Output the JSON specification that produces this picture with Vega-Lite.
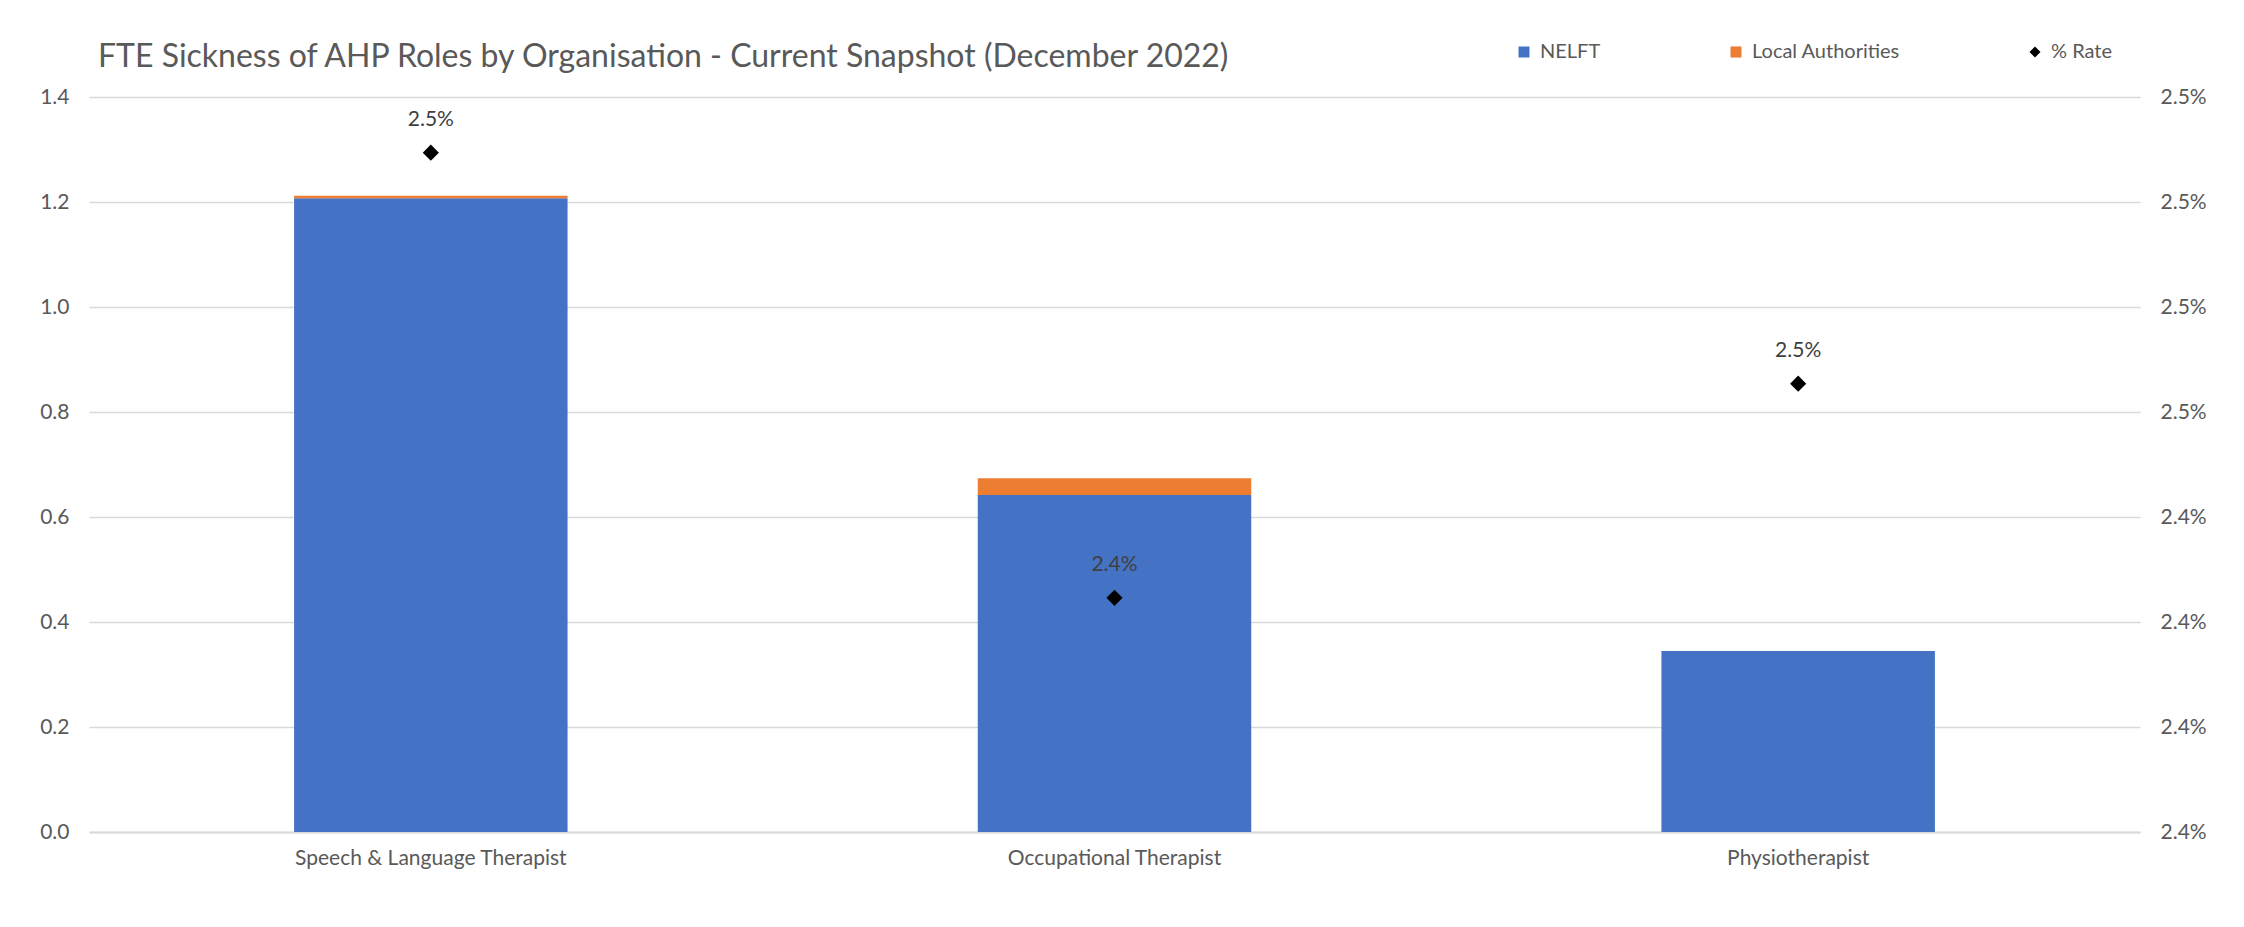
{
  "$schema": "https://vega.github.io/schema/vega-lite/v6.json",
  "width": 2051,
  "height": 735,
  "autosize": {"type": "none"},
  "padding": {"left": 89, "top": 97, "right": 104, "bottom": 95},
  "background": "#ffffff",
  "title": {
    "text": "FTE Sickness of AHP Roles by Organisation - Current Snapshot (December 2022)",
    "anchor": "start",
    "frame": "group",
    "font": "Lato",
    "fontSize": 32,
    "fontWeight": "normal",
    "color": "#595959",
    "dx": 9,
    "dy": 52,
    "offset": 20
  },
  "datasets": {
    "bars": [
      {"role": "Speech & Language Therapist", "org": "NELFT", "fte": 1.207},
      {"role": "Speech & Language Therapist", "org": "Local Authorities", "fte": 0.005},
      {"role": "Occupational Therapist", "org": "NELFT", "fte": 0.642},
      {"role": "Occupational Therapist", "org": "Local Authorities", "fte": 0.032},
      {"role": "Physiotherapist", "org": "NELFT", "fte": 0.345},
      {"role": "Physiotherapist", "org": "Local Authorities", "fte": 0}
    ],
    "rates": [
      {"role": "Speech & Language Therapist", "rate": 0.024797},
      {"role": "Occupational Therapist", "rate": 0.024373},
      {"role": "Physiotherapist", "rate": 0.024577}
    ]
  },
  "config": {
    "font": "Lato",
    "view": {"stroke": null},
    "axis": {"labelFont": "Lato", "labelColor": "#595959", "labelFontSize": 21, "labelLimit": 0}
  },
  "layer": [
    {
      "data": {"name": "bars"},
      "mark": {"type": "bar"},
      "encoding": {
        "x": {
          "field": "role",
          "type": "nominal",
          "sort": ["Speech & Language Therapist", "Occupational Therapist", "Physiotherapist"],
          "scale": {"paddingInner": 0.6, "paddingOuter": 0.3},
          "axis": {
            "title": null,
            "labelAngle": 0,
            "ticks": false,
            "domainColor": "#d9d9d9",
            "domainWidth": 2,
            "labelPadding": 15,
            "labelFontSize": 21,
            "labelLimit": 0
          }
        },
        "y": {
          "field": "fte",
          "type": "quantitative",
          "stack": "zero",
          "scale": {"domain": [0, 1.4], "nice": false},
          "axis": {
            "title": null,
            "values": [0, 0.2, 0.4, 0.6, 0.8, 1.0, 1.2, 1.4],
            "format": ".1f",
            "domain": false,
            "ticks": false,
            "labelPadding": 20,
            "gridColor": "#d9d9d9",
            "gridWidth": 1.5
          }
        },
        "color": {
          "field": "org",
          "type": "nominal",
          "scale": {
            "domain": ["NELFT", "Local Authorities", "% Rate"],
            "range": ["#4472C4", "#ED7D31", "#000000"]
          },
          "legend": {
            "title": null,
            "orient": "none",
            "direction": "horizontal",
            "legendX": 1425,
            "legendY": -55,
            "padding": 0,
            "columnPadding": 125,
            "labelFont": "Lato",
            "labelFontSize": 20,
            "labelColor": "#595959",
            "labelOffset": 6,
            "labelLimit": 0,
            "symbolSize": 121,
            "encode": {
              "symbols": {
                "update": {
                  "shape": {"signal": "datum.value === '% Rate' ? 'diamond' : 'square'"},
                  "fill": {"scale": "color", "field": "value"},
                  "strokeWidth": {"value": 0},
                  "opacity": {"value": 1}
                }
              }
            }
          }
        },
        "order": {"field": "org", "sort": "descending"}
      }
    },
    {
      "data": {"name": "rates"},
      "encoding": {
        "x": {
          "field": "role",
          "type": "nominal",
          "sort": ["Speech & Language Therapist", "Occupational Therapist", "Physiotherapist"]
        },
        "y": {
          "field": "rate",
          "type": "quantitative",
          "scale": {"domain": [0.02415, 0.02485], "nice": false, "zero": false},
          "axis": {
            "title": null,
            "orient": "right",
            "values": [0.02415, 0.02425, 0.02435, 0.02445, 0.02455, 0.02465, 0.02475, 0.02485],
            "format": ".1%",
            "domain": false,
            "ticks": false,
            "grid": false,
            "labelPadding": 20
          }
        }
      },
      "layer": [
        {
          "mark": {"type": "point", "shape": "diamond", "filled": true, "size": 260, "opacity": 1},
          "encoding": {"color": {"datum": "% Rate"}}
        },
        {
          "mark": {"type": "text", "dy": -33, "font": "Lato", "fontSize": 21, "color": "#404040"},
          "encoding": {"text": {"field": "rate", "type": "quantitative", "format": ".1%"}}
        }
      ]
    }
  ],
  "resolve": {"scale": {"y": "independent"}}
}
